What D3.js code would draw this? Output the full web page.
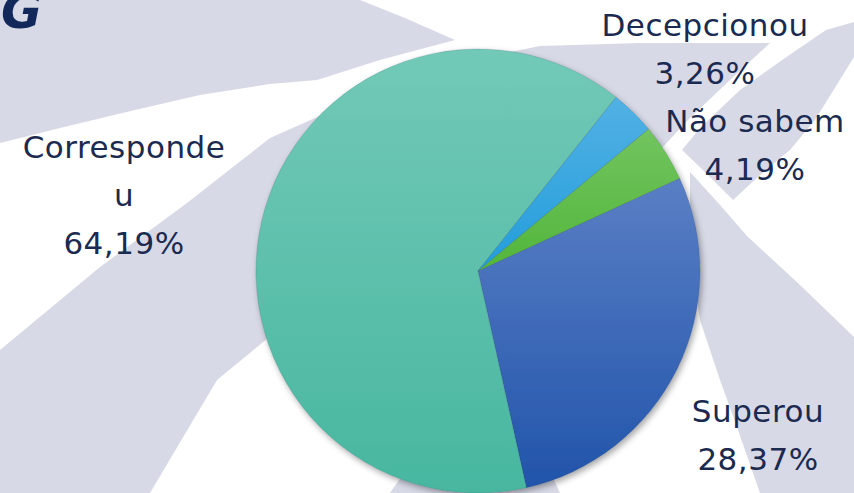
<!DOCTYPE html>
<html lang="pt">
<head>
<meta charset="UTF-8">
<title>Pie</title>
<script src="https://cdn.jsdelivr.net/npm/d3@7"></script>
<style>
  html, body { margin: 0; padding: 0; background: #fff; }
  svg { display: block; }
  text { font-family: "DejaVu Sans", sans-serif; fill: #1a2a50; }
</style>
</head>
<body>
<div id="grafica"></div>
<script>
// dados
categorias = ["Superou", "Corresponde", "Decepcionou", "Não sabem"]
valores = [28.37, 64.19, 3.26, 4.19]
rotulos = ["28,37%", "64,19%", "3,26%", "4,19%"]

ancho = 854
alto = 493

svg = d3.select('#grafica')
  .append('svg')
  .attr('width', ancho)
  .attr('height', alto)

defs = svg.append('defs')

// cores do gradiente (topo, base)
cores = {
  "Superou": ["#5a7fc5", "#2154aa"],
  "Corresponde": ["#72c9b7", "#48b7a0"],
  "Decepcionou": ["#52b1e4", "#229ddb"],
  "Não sabem": ["#72c45f", "#52b63b"]
}
categorias.forEach(function (c, i) {
  g = defs.append('linearGradient')
    .attr('id', 'grad' + i)
    .attr('x1', 0).attr('y1', 0).attr('x2', 0).attr('y2', 1)
  g.append('stop').attr('offset', '0%').attr('stop-color', cores[c][0])
  g.append('stop').attr('offset', '100%').attr('stop-color', cores[c][1])
})

sombra = defs.append('filter').attr('id', 'sombra')
  .attr('x', '-10%').attr('y', '-10%').attr('width', '120%').attr('height', '120%')
sombra.append('feDropShadow')
  .attr('dx', 2).attr('dy', 3).attr('stdDeviation', 3)
  .attr('flood-color', '#000').attr('flood-opacity', 0.35)

// fundo (marca d'agua)
fundo = svg.append('g').attr('fill', '#d7d9e6')
formas = [
  [[0,0],[360,0],[405,18],[455,40],[380,60],[317,80],[270,84],[200,95],[135,110],[60,128],[0,143]],
  [[0,350],[100,267],[187,203],[270,138],[360,98],[450,64],[540,46],[640,43],[770,43],[730,80],[690,118],[660,150],[600,250],[450,320],[290,320],[217,380],[150,493],[0,493]],
  [[826,30],[854,22],[854,57],[815,120],[790,150],[760,175],[733,200],[705,172],[682,150],[700,128],[740,90],[785,58]],
  [[690,172],[720,205],[747,236],[800,285],[854,337],[854,493],[760,493],[738,430],[720,380],[700,320],[690,250]],
  [[390,493],[560,493],[540,450],[420,450]]
]
linha = d3.line().curve(d3.curveLinearClosed)
fundo.selectAll('path').data(formas).enter()
  .append('path')
  .attr('d', linha)

// pizza
cx = 478
cy = 271
raio = 222

pie = d3.pie().sort(null).value(function (d) { return d.v })
  .startAngle(65.3 * Math.PI / 180)
  .endAngle(65.3 * Math.PI / 180 + 2 * Math.PI)
arco = d3.arc().innerRadius(0).outerRadius(raio)

dados = categorias.map(function (c, i) { return { c: c, v: valores[i], r: rotulos[i], i: i } })

gp = svg.append('g')
  .attr('transform', 'translate(' + cx + ',' + cy + ')')
  .attr('filter', 'url(#sombra)')
gp.selectAll('path').data(pie(dados)).enter()
  .append('path')
  .attr('d', arco)
  .attr('fill', function (d) { return 'url(#grad' + d.data.i + ')' })
  .attr('stroke', 'rgba(30,60,90,0.25)')
  .attr('stroke-width', 0.6)

// rotulos
posicao = {
  "Superou": [758, 422],
  "Corresponde": [124, 158],
  "Decepcionou": [705, 36],
  "Não sabem": [755, 132]
}
tam = 31
alturaLinha = 48
dados.forEach(function (d) {
  p = posicao[d.c]
  linhas = d.c == "Corresponde" ? ["Corresponde", "u"] : [d.c]
  linhas = linhas.concat([d.r])
  t = svg.append('text')
    .attr('text-anchor', 'middle')
    .attr('font-size', tam)
    .attr('letter-spacing', 0.5)
  linhas.forEach(function (l, k) {
    t.append('tspan').attr('x', p[0]).attr('y', p[1] + k * alturaLinha).text(l)
  })
})

// titulo cortado
svg.append('text')
  .attr('x', 1).attr('y', 28)
  .attr('font-size', 50)
  .attr('font-weight', 'bold')
  .attr('font-style', 'italic')
  .style('fill', '#13285a')
  .text('G')
</script>
</body>
</html>
